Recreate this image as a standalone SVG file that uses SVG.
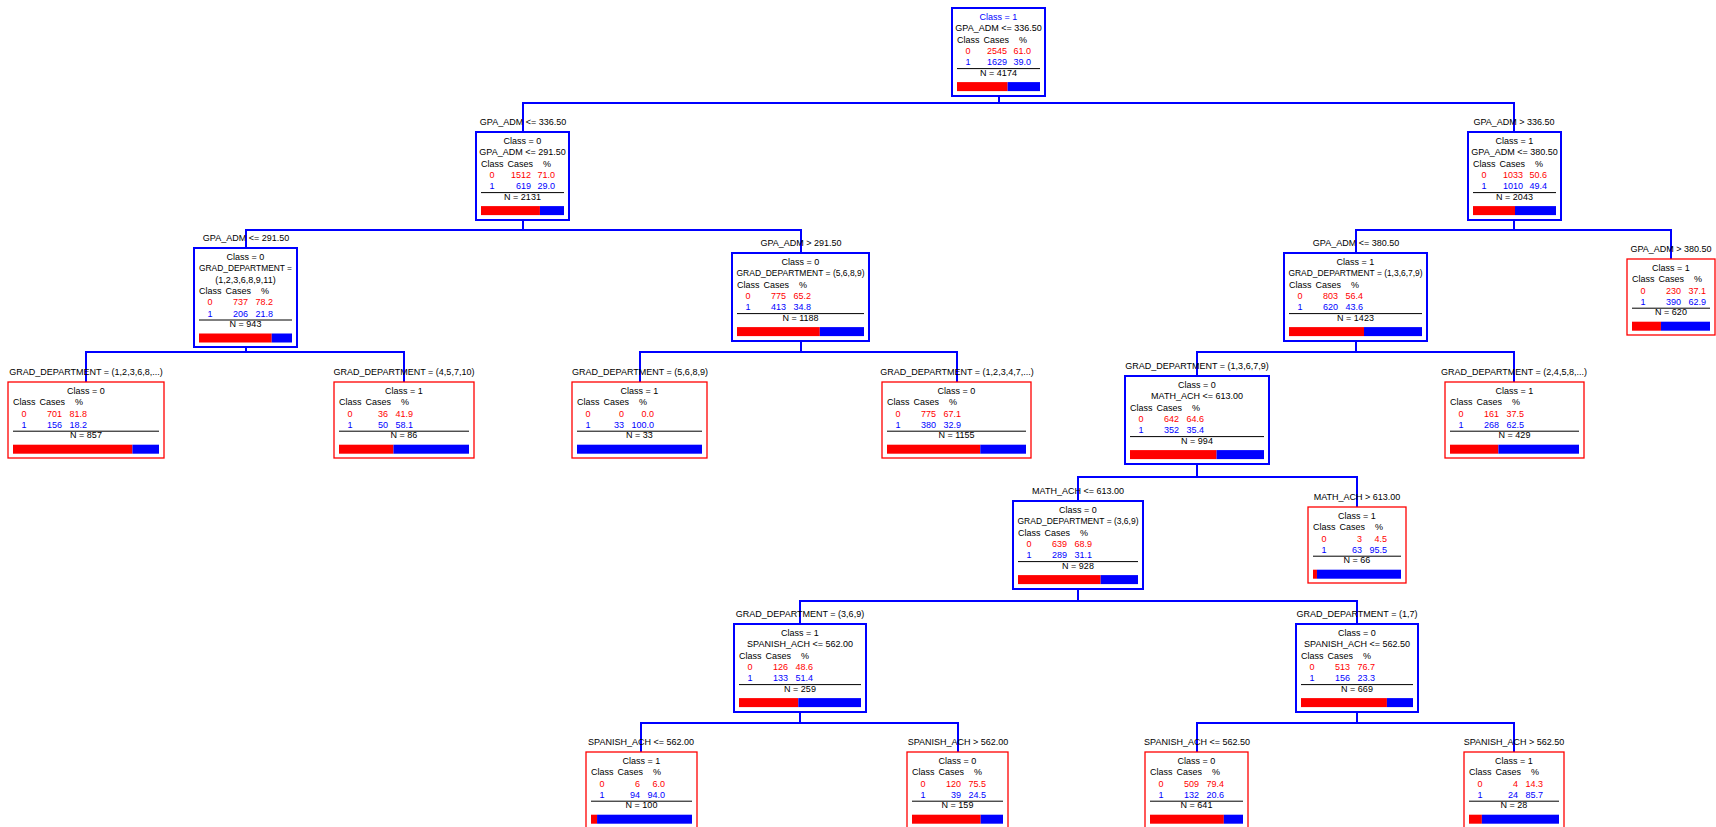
<svg xmlns="http://www.w3.org/2000/svg" width="1716" height="827" viewBox="0 0 1716 827">
<style>
text{font-family:"Liberation Sans",Arial,sans-serif;font-size:9px;fill:#000}
.c{text-anchor:middle}
.e{text-anchor:end}
.r{fill:#ff0000}
.b{fill:#0000ff}
.int{fill:#fff;stroke:#0000ff;stroke-width:2}
.leaf{fill:#fff;stroke:#ff0000;stroke-width:1.3}
.sep{stroke:#000;stroke-width:1}
.conn{stroke:#0000ff;stroke-width:2;fill:none;stroke-linecap:square}
.br{fill:#ff0000}
.bb{fill:#0000ff}
</style>
<rect x="0" y="0" width="1716" height="827" fill="#fff"/>
<g id="connectors">
<path class="conn" d="M999 96V103M523 103H1514M523 103V132M1514 103V132"/>
<path class="conn" d="M523 220V230M246 230H801M246 230V248M801 230V253"/>
<path class="conn" d="M1514 220V230M1356 230H1671M1356 230V253M1671 230V259"/>
<path class="conn" d="M246 347V352M86 352H404M86 352V382M404 352V382"/>
<path class="conn" d="M801 341V352M640 352H957M640 352V382M957 352V382"/>
<path class="conn" d="M1356 341V352M1197 352H1514M1197 352V376M1514 352V382"/>
<path class="conn" d="M1197 464V477M1078 477H1357M1078 477V501M1357 477V507"/>
<path class="conn" d="M1078 589V601M800 601H1357M800 601V624M1357 601V624"/>
<path class="conn" d="M800 712V723M641 723H958M641 723V752M958 723V752"/>
<path class="conn" d="M1357 712V723M1197 723H1514M1197 723V752M1514 723V752"/>
</g>
<g id="labels">
<text class="c" x="523" y="125">GPA_ADM &lt;= 336.50</text>
<text class="c" x="1514" y="125">GPA_ADM &gt; 336.50</text>
<text class="c" x="246" y="241">GPA_ADM &lt;= 291.50</text>
<text class="c" x="801" y="246">GPA_ADM &gt; 291.50</text>
<text class="c" x="1356" y="246">GPA_ADM &lt;= 380.50</text>
<text class="c" x="1671" y="252">GPA_ADM &gt; 380.50</text>
<text class="c" x="86" y="375">GRAD_DEPARTMENT = (1,2,3,6,8,...)</text>
<text class="c" x="404" y="375">GRAD_DEPARTMENT = (4,5,7,10)</text>
<text class="c" x="640" y="375">GRAD_DEPARTMENT = (5,6,8,9)</text>
<text class="c" x="957" y="375">GRAD_DEPARTMENT = (1,2,3,4,7,...)</text>
<text class="c" x="1197" y="369">GRAD_DEPARTMENT = (1,3,6,7,9)</text>
<text class="c" x="1514" y="375">GRAD_DEPARTMENT = (2,4,5,8,...)</text>
<text class="c" x="1078" y="494">MATH_ACH &lt;= 613.00</text>
<text class="c" x="1357" y="500">MATH_ACH &gt; 613.00</text>
<text class="c" x="800" y="617">GRAD_DEPARTMENT = (3,6,9)</text>
<text class="c" x="1357" y="617">GRAD_DEPARTMENT = (1,7)</text>
<text class="c" x="641" y="745">SPANISH_ACH &lt;= 562.00</text>
<text class="c" x="958" y="745">SPANISH_ACH &gt; 562.00</text>
<text class="c" x="1197" y="745">SPANISH_ACH &lt;= 562.50</text>
<text class="c" x="1514" y="745">SPANISH_ACH &gt; 562.50</text>
</g>

<g id="node-root" transform="translate(952,8)">
<rect class="int" width="93" height="88"/>
<text class="c b" x="46.5" y="11.7">Class = 1</text>
<text class="c" x="46.5" y="23.1">GPA_ADM &lt;= 336.50</text>
<text x="5" y="34.5">Class</text><text class="e" x="57" y="34.5">Cases</text><text class="c" x="71" y="34.5">%</text>
<text class="c r" x="16" y="45.9">0</text><text class="e r" x="55" y="45.9">2545</text><text class="e r" x="79" y="45.9">61.0</text>
<text class="c b" x="16" y="57.3">1</text><text class="e b" x="55" y="57.3">1629</text><text class="e b" x="79" y="57.3">39.0</text>
<line class="sep" x1="5" y1="60.6" x2="88" y2="60.6"/>
<text class="c" x="46.5" y="67.8">N = 4174</text>
<rect class="br" x="5" y="74.1" width="50.63" height="9"/><rect class="bb" x="55.63" y="74.1" width="32.37" height="9"/>
</g>

<g id="node-1" transform="translate(476,132)">
<rect class="int" width="93" height="88"/>
<text class="c" x="46.5" y="11.7">Class = 0</text>
<text class="c" x="46.5" y="23.1">GPA_ADM &lt;= 291.50</text>
<text x="5" y="34.5">Class</text><text class="e" x="57" y="34.5">Cases</text><text class="c" x="71" y="34.5">%</text>
<text class="c r" x="16" y="45.9">0</text><text class="e r" x="55" y="45.9">1512</text><text class="e r" x="79" y="45.9">71.0</text>
<text class="c b" x="16" y="57.3">1</text><text class="e b" x="55" y="57.3">619</text><text class="e b" x="79" y="57.3">29.0</text>
<line class="sep" x1="5" y1="60.6" x2="88" y2="60.6"/>
<text class="c" x="46.5" y="67.8">N = 2131</text>
<rect class="br" x="5" y="74.1" width="58.93" height="9"/><rect class="bb" x="63.93" y="74.1" width="24.07" height="9"/>
</g>

<g id="node-2" transform="translate(1468,132)">
<rect class="int" width="93" height="88"/>
<text class="c" x="46.5" y="11.7">Class = 1</text>
<text class="c" x="46.5" y="23.1">GPA_ADM &lt;= 380.50</text>
<text x="5" y="34.5">Class</text><text class="e" x="57" y="34.5">Cases</text><text class="c" x="71" y="34.5">%</text>
<text class="c r" x="16" y="45.9">0</text><text class="e r" x="55" y="45.9">1033</text><text class="e r" x="79" y="45.9">50.6</text>
<text class="c b" x="16" y="57.3">1</text><text class="e b" x="55" y="57.3">1010</text><text class="e b" x="79" y="57.3">49.4</text>
<line class="sep" x1="5" y1="60.6" x2="88" y2="60.6"/>
<text class="c" x="46.5" y="67.8">N = 2043</text>
<rect class="br" x="5" y="74.1" width="42" height="9"/><rect class="bb" x="47" y="74.1" width="41" height="9"/>
</g>

<g id="node-3" transform="translate(194,248)">
<rect class="int" width="103" height="99"/>
<text class="c" x="51.5" y="11.7">Class = 0</text>
<text class="c" x="51.5" y="23.1" textLength="93" lengthAdjust="spacingAndGlyphs">GRAD_DEPARTMENT =</text>
<text class="c" x="51.5" y="34.5">(1,2,3,6,8,9,11)</text>
<text x="5" y="45.9">Class</text><text class="e" x="57" y="45.9">Cases</text><text class="c" x="71" y="45.9">%</text>
<text class="c r" x="16" y="57.3">0</text><text class="e r" x="54" y="57.3">737</text><text class="e r" x="79" y="57.3">78.2</text>
<text class="c b" x="16" y="68.7">1</text><text class="e b" x="54" y="68.7">206</text><text class="e b" x="79" y="68.7">21.8</text>
<line class="sep" x1="5" y1="72" x2="98" y2="72"/>
<text class="c" x="51.5" y="79.2">N = 943</text>
<rect class="br" x="5" y="85.5" width="72.73" height="9"/><rect class="bb" x="77.73" y="85.5" width="20.27" height="9"/>
</g>

<g id="node-4" transform="translate(732,253)">
<rect class="int" width="137" height="88"/>
<text class="c" x="68.5" y="11.7">Class = 0</text>
<text class="c" x="68.5" y="23.1" textLength="128" lengthAdjust="spacingAndGlyphs">GRAD_DEPARTMENT = (5,6,8,9)</text>
<text x="5" y="34.5">Class</text><text class="e" x="57" y="34.5">Cases</text><text class="c" x="71" y="34.5">%</text>
<text class="c r" x="16" y="45.9">0</text><text class="e r" x="54" y="45.9">775</text><text class="e r" x="79" y="45.9">65.2</text>
<text class="c b" x="16" y="57.3">1</text><text class="e b" x="54" y="57.3">413</text><text class="e b" x="79" y="57.3">34.8</text>
<line class="sep" x1="5" y1="60.6" x2="132" y2="60.6"/>
<text class="c" x="68.5" y="67.8">N = 1188</text>
<rect class="br" x="5" y="74.1" width="82.8" height="9"/><rect class="bb" x="87.8" y="74.1" width="44.2" height="9"/>
</g>

<g id="node-5" transform="translate(1284,253)">
<rect class="int" width="143" height="88"/>
<text class="c" x="71.5" y="11.7">Class = 1</text>
<text class="c" x="71.5" y="23.1" textLength="134" lengthAdjust="spacingAndGlyphs">GRAD_DEPARTMENT = (1,3,6,7,9)</text>
<text x="5" y="34.5">Class</text><text class="e" x="57" y="34.5">Cases</text><text class="c" x="71" y="34.5">%</text>
<text class="c r" x="16" y="45.9">0</text><text class="e r" x="54" y="45.9">803</text><text class="e r" x="79" y="45.9">56.4</text>
<text class="c b" x="16" y="57.3">1</text><text class="e b" x="54" y="57.3">620</text><text class="e b" x="79" y="57.3">43.6</text>
<line class="sep" x1="5" y1="60.6" x2="138" y2="60.6"/>
<text class="c" x="71.5" y="67.8">N = 1423</text>
<rect class="br" x="5" y="74.1" width="75.01" height="9"/><rect class="bb" x="80.01" y="74.1" width="57.99" height="9"/>
</g>

<g id="node-6" transform="translate(1627,259)">
<rect class="leaf" width="88" height="76"/>
<text class="c" x="44" y="11.7">Class = 1</text>
<text x="5" y="23.1">Class</text><text class="e" x="57" y="23.1">Cases</text><text class="c" x="71" y="23.1">%</text>
<text class="c r" x="16" y="34.5">0</text><text class="e r" x="54" y="34.5">230</text><text class="e r" x="79" y="34.5">37.1</text>
<text class="c b" x="16" y="45.9">1</text><text class="e b" x="54" y="45.9">390</text><text class="e b" x="79" y="45.9">62.9</text>
<line class="sep" x1="5" y1="49.2" x2="83" y2="49.2"/>
<text class="c" x="44" y="56.4">N = 620</text>
<rect class="br" x="5" y="62.7" width="28.94" height="9"/><rect class="bb" x="33.94" y="62.7" width="49.06" height="9"/>
</g>

<g id="node-7" transform="translate(8,382)">
<rect class="leaf" width="156" height="76"/>
<text class="c" x="78" y="11.7">Class = 0</text>
<text x="5" y="23.1">Class</text><text class="e" x="57" y="23.1">Cases</text><text class="c" x="71" y="23.1">%</text>
<text class="c r" x="16" y="34.5">0</text><text class="e r" x="54" y="34.5">701</text><text class="e r" x="79" y="34.5">81.8</text>
<text class="c b" x="16" y="45.9">1</text><text class="e b" x="54" y="45.9">156</text><text class="e b" x="79" y="45.9">18.2</text>
<line class="sep" x1="5" y1="49.2" x2="151" y2="49.2"/>
<text class="c" x="78" y="56.4">N = 857</text>
<rect class="br" x="5" y="62.7" width="119.43" height="9"/><rect class="bb" x="124.43" y="62.7" width="26.57" height="9"/>
</g>

<g id="node-8" transform="translate(334,382)">
<rect class="leaf" width="140" height="76"/>
<text class="c" x="70" y="11.7">Class = 1</text>
<text x="5" y="23.1">Class</text><text class="e" x="57" y="23.1">Cases</text><text class="c" x="71" y="23.1">%</text>
<text class="c r" x="16" y="34.5">0</text><text class="e r" x="54" y="34.5">36</text><text class="e r" x="79" y="34.5">41.9</text>
<text class="c b" x="16" y="45.9">1</text><text class="e b" x="54" y="45.9">50</text><text class="e b" x="79" y="45.9">58.1</text>
<line class="sep" x1="5" y1="49.2" x2="135" y2="49.2"/>
<text class="c" x="70" y="56.4">N = 86</text>
<rect class="br" x="5" y="62.7" width="54.47" height="9"/><rect class="bb" x="59.47" y="62.7" width="75.53" height="9"/>
</g>

<g id="node-9" transform="translate(572,382)">
<rect class="leaf" width="135" height="76"/>
<text class="c" x="67.5" y="11.7">Class = 1</text>
<text x="5" y="23.1">Class</text><text class="e" x="57" y="23.1">Cases</text><text class="c" x="71" y="23.1">%</text>
<text class="c r" x="16" y="34.5">0</text><text class="e r" x="52" y="34.5">0</text><text class="e r" x="82" y="34.5">0.0</text>
<text class="c b" x="16" y="45.9">1</text><text class="e b" x="52" y="45.9">33</text><text class="e b" x="82" y="45.9">100.0</text>
<line class="sep" x1="5" y1="49.2" x2="130" y2="49.2"/>
<text class="c" x="67.5" y="56.4">N = 33</text>
<rect class="bb" x="5" y="62.7" width="125" height="9"/>
</g>

<g id="node-10" transform="translate(882,382)">
<rect class="leaf" width="149" height="76"/>
<text class="c" x="74.5" y="11.7">Class = 0</text>
<text x="5" y="23.1">Class</text><text class="e" x="57" y="23.1">Cases</text><text class="c" x="71" y="23.1">%</text>
<text class="c r" x="16" y="34.5">0</text><text class="e r" x="54" y="34.5">775</text><text class="e r" x="79" y="34.5">67.1</text>
<text class="c b" x="16" y="45.9">1</text><text class="e b" x="54" y="45.9">380</text><text class="e b" x="79" y="45.9">32.9</text>
<line class="sep" x1="5" y1="49.2" x2="144" y2="49.2"/>
<text class="c" x="74.5" y="56.4">N = 1155</text>
<rect class="br" x="5" y="62.7" width="93.27" height="9"/><rect class="bb" x="98.27" y="62.7" width="45.73" height="9"/>
</g>

<g id="node-11" transform="translate(1125,376)">
<rect class="int" width="144" height="88"/>
<text class="c" x="72" y="11.7">Class = 0</text>
<text class="c" x="72" y="23.1">MATH_ACH &lt;= 613.00</text>
<text x="5" y="34.5">Class</text><text class="e" x="57" y="34.5">Cases</text><text class="c" x="71" y="34.5">%</text>
<text class="c r" x="16" y="45.9">0</text><text class="e r" x="54" y="45.9">642</text><text class="e r" x="79" y="45.9">64.6</text>
<text class="c b" x="16" y="57.3">1</text><text class="e b" x="54" y="57.3">352</text><text class="e b" x="79" y="57.3">35.4</text>
<line class="sep" x1="5" y1="60.6" x2="139" y2="60.6"/>
<text class="c" x="72" y="67.8">N = 994</text>
<rect class="br" x="5" y="74.1" width="86.56" height="9"/><rect class="bb" x="91.56" y="74.1" width="47.44" height="9"/>
</g>

<g id="node-12" transform="translate(1445,382)">
<rect class="leaf" width="139" height="76"/>
<text class="c" x="69.5" y="11.7">Class = 1</text>
<text x="5" y="23.1">Class</text><text class="e" x="57" y="23.1">Cases</text><text class="c" x="71" y="23.1">%</text>
<text class="c r" x="16" y="34.5">0</text><text class="e r" x="54" y="34.5">161</text><text class="e r" x="79" y="34.5">37.5</text>
<text class="c b" x="16" y="45.9">1</text><text class="e b" x="54" y="45.9">268</text><text class="e b" x="79" y="45.9">62.5</text>
<line class="sep" x1="5" y1="49.2" x2="134" y2="49.2"/>
<text class="c" x="69.5" y="56.4">N = 429</text>
<rect class="br" x="5" y="62.7" width="48.38" height="9"/><rect class="bb" x="53.38" y="62.7" width="80.62" height="9"/>
</g>

<g id="node-13" transform="translate(1013,501)">
<rect class="int" width="130" height="88"/>
<text class="c" x="65" y="11.7">Class = 0</text>
<text class="c" x="65" y="23.1" textLength="121" lengthAdjust="spacingAndGlyphs">GRAD_DEPARTMENT = (3,6,9)</text>
<text x="5" y="34.5">Class</text><text class="e" x="57" y="34.5">Cases</text><text class="c" x="71" y="34.5">%</text>
<text class="c r" x="16" y="45.9">0</text><text class="e r" x="54" y="45.9">639</text><text class="e r" x="79" y="45.9">68.9</text>
<text class="c b" x="16" y="57.3">1</text><text class="e b" x="54" y="57.3">289</text><text class="e b" x="79" y="57.3">31.1</text>
<line class="sep" x1="5" y1="60.6" x2="125" y2="60.6"/>
<text class="c" x="65" y="67.8">N = 928</text>
<rect class="br" x="5" y="74.1" width="82.68" height="9"/><rect class="bb" x="87.68" y="74.1" width="37.32" height="9"/>
</g>

<g id="node-14" transform="translate(1308,507)">
<rect class="leaf" width="98" height="76"/>
<text class="c" x="49" y="11.7">Class = 1</text>
<text x="5" y="23.1">Class</text><text class="e" x="57" y="23.1">Cases</text><text class="c" x="71" y="23.1">%</text>
<text class="c r" x="16" y="34.5">0</text><text class="e r" x="54" y="34.5">3</text><text class="e r" x="79" y="34.5">4.5</text>
<text class="c b" x="16" y="45.9">1</text><text class="e b" x="54" y="45.9">63</text><text class="e b" x="79" y="45.9">95.5</text>
<line class="sep" x1="5" y1="49.2" x2="93" y2="49.2"/>
<text class="c" x="49" y="56.4">N = 66</text>
<rect class="br" x="5" y="62.7" width="3.96" height="9"/><rect class="bb" x="8.96" y="62.7" width="84.04" height="9"/>
</g>

<g id="node-15" transform="translate(734,624)">
<rect class="int" width="132" height="88"/>
<text class="c" x="66" y="11.7">Class = 1</text>
<text class="c" x="66" y="23.1">SPANISH_ACH &lt;= 562.00</text>
<text x="5" y="34.5">Class</text><text class="e" x="57" y="34.5">Cases</text><text class="c" x="71" y="34.5">%</text>
<text class="c r" x="16" y="45.9">0</text><text class="e r" x="54" y="45.9">126</text><text class="e r" x="79" y="45.9">48.6</text>
<text class="c b" x="16" y="57.3">1</text><text class="e b" x="54" y="57.3">133</text><text class="e b" x="79" y="57.3">51.4</text>
<line class="sep" x1="5" y1="60.6" x2="127" y2="60.6"/>
<text class="c" x="66" y="67.8">N = 259</text>
<rect class="br" x="5" y="74.1" width="59.29" height="9"/><rect class="bb" x="64.29" y="74.1" width="62.71" height="9"/>
</g>

<g id="node-16" transform="translate(1296,624)">
<rect class="int" width="122" height="88"/>
<text class="c" x="61" y="11.7">Class = 0</text>
<text class="c" x="61" y="23.1">SPANISH_ACH &lt;= 562.50</text>
<text x="5" y="34.5">Class</text><text class="e" x="57" y="34.5">Cases</text><text class="c" x="71" y="34.5">%</text>
<text class="c r" x="16" y="45.9">0</text><text class="e r" x="54" y="45.9">513</text><text class="e r" x="79" y="45.9">76.7</text>
<text class="c b" x="16" y="57.3">1</text><text class="e b" x="54" y="57.3">156</text><text class="e b" x="79" y="57.3">23.3</text>
<line class="sep" x1="5" y1="60.6" x2="117" y2="60.6"/>
<text class="c" x="61" y="67.8">N = 669</text>
<rect class="br" x="5" y="74.1" width="85.9" height="9"/><rect class="bb" x="90.9" y="74.1" width="26.1" height="9"/>
</g>

<g id="node-17" transform="translate(586,752)">
<rect class="leaf" width="111" height="76"/>
<text class="c" x="55.5" y="11.7">Class = 1</text>
<text x="5" y="23.1">Class</text><text class="e" x="57" y="23.1">Cases</text><text class="c" x="71" y="23.1">%</text>
<text class="c r" x="16" y="34.5">0</text><text class="e r" x="54" y="34.5">6</text><text class="e r" x="79" y="34.5">6.0</text>
<text class="c b" x="16" y="45.9">1</text><text class="e b" x="54" y="45.9">94</text><text class="e b" x="79" y="45.9">94.0</text>
<line class="sep" x1="5" y1="49.2" x2="106" y2="49.2"/>
<text class="c" x="55.5" y="56.4">N = 100</text>
<rect class="br" x="5" y="62.7" width="6.06" height="9"/><rect class="bb" x="11.06" y="62.7" width="94.94" height="9"/>
</g>

<g id="node-18" transform="translate(907,752)">
<rect class="leaf" width="101" height="76"/>
<text class="c" x="50.5" y="11.7">Class = 0</text>
<text x="5" y="23.1">Class</text><text class="e" x="57" y="23.1">Cases</text><text class="c" x="71" y="23.1">%</text>
<text class="c r" x="16" y="34.5">0</text><text class="e r" x="54" y="34.5">120</text><text class="e r" x="79" y="34.5">75.5</text>
<text class="c b" x="16" y="45.9">1</text><text class="e b" x="54" y="45.9">39</text><text class="e b" x="79" y="45.9">24.5</text>
<line class="sep" x1="5" y1="49.2" x2="96" y2="49.2"/>
<text class="c" x="50.5" y="56.4">N = 159</text>
<rect class="br" x="5" y="62.7" width="68.71" height="9"/><rect class="bb" x="73.71" y="62.7" width="22.29" height="9"/>
</g>

<g id="node-19" transform="translate(1145,752)">
<rect class="leaf" width="103" height="76"/>
<text class="c" x="51.5" y="11.7">Class = 0</text>
<text x="5" y="23.1">Class</text><text class="e" x="57" y="23.1">Cases</text><text class="c" x="71" y="23.1">%</text>
<text class="c r" x="16" y="34.5">0</text><text class="e r" x="54" y="34.5">509</text><text class="e r" x="79" y="34.5">79.4</text>
<text class="c b" x="16" y="45.9">1</text><text class="e b" x="54" y="45.9">132</text><text class="e b" x="79" y="45.9">20.6</text>
<line class="sep" x1="5" y1="49.2" x2="98" y2="49.2"/>
<text class="c" x="51.5" y="56.4">N = 641</text>
<rect class="br" x="5" y="62.7" width="73.84" height="9"/><rect class="bb" x="78.84" y="62.7" width="19.16" height="9"/>
</g>

<g id="node-20" transform="translate(1464,752)">
<rect class="leaf" width="100" height="76"/>
<text class="c" x="50" y="11.7">Class = 1</text>
<text x="5" y="23.1">Class</text><text class="e" x="57" y="23.1">Cases</text><text class="c" x="71" y="23.1">%</text>
<text class="c r" x="16" y="34.5">0</text><text class="e r" x="54" y="34.5">4</text><text class="e r" x="79" y="34.5">14.3</text>
<text class="c b" x="16" y="45.9">1</text><text class="e b" x="54" y="45.9">24</text><text class="e b" x="79" y="45.9">85.7</text>
<line class="sep" x1="5" y1="49.2" x2="95" y2="49.2"/>
<text class="c" x="50" y="56.4">N = 28</text>
<rect class="br" x="5" y="62.7" width="12.87" height="9"/><rect class="bb" x="17.87" y="62.7" width="77.13" height="9"/>
</g>
</svg>
